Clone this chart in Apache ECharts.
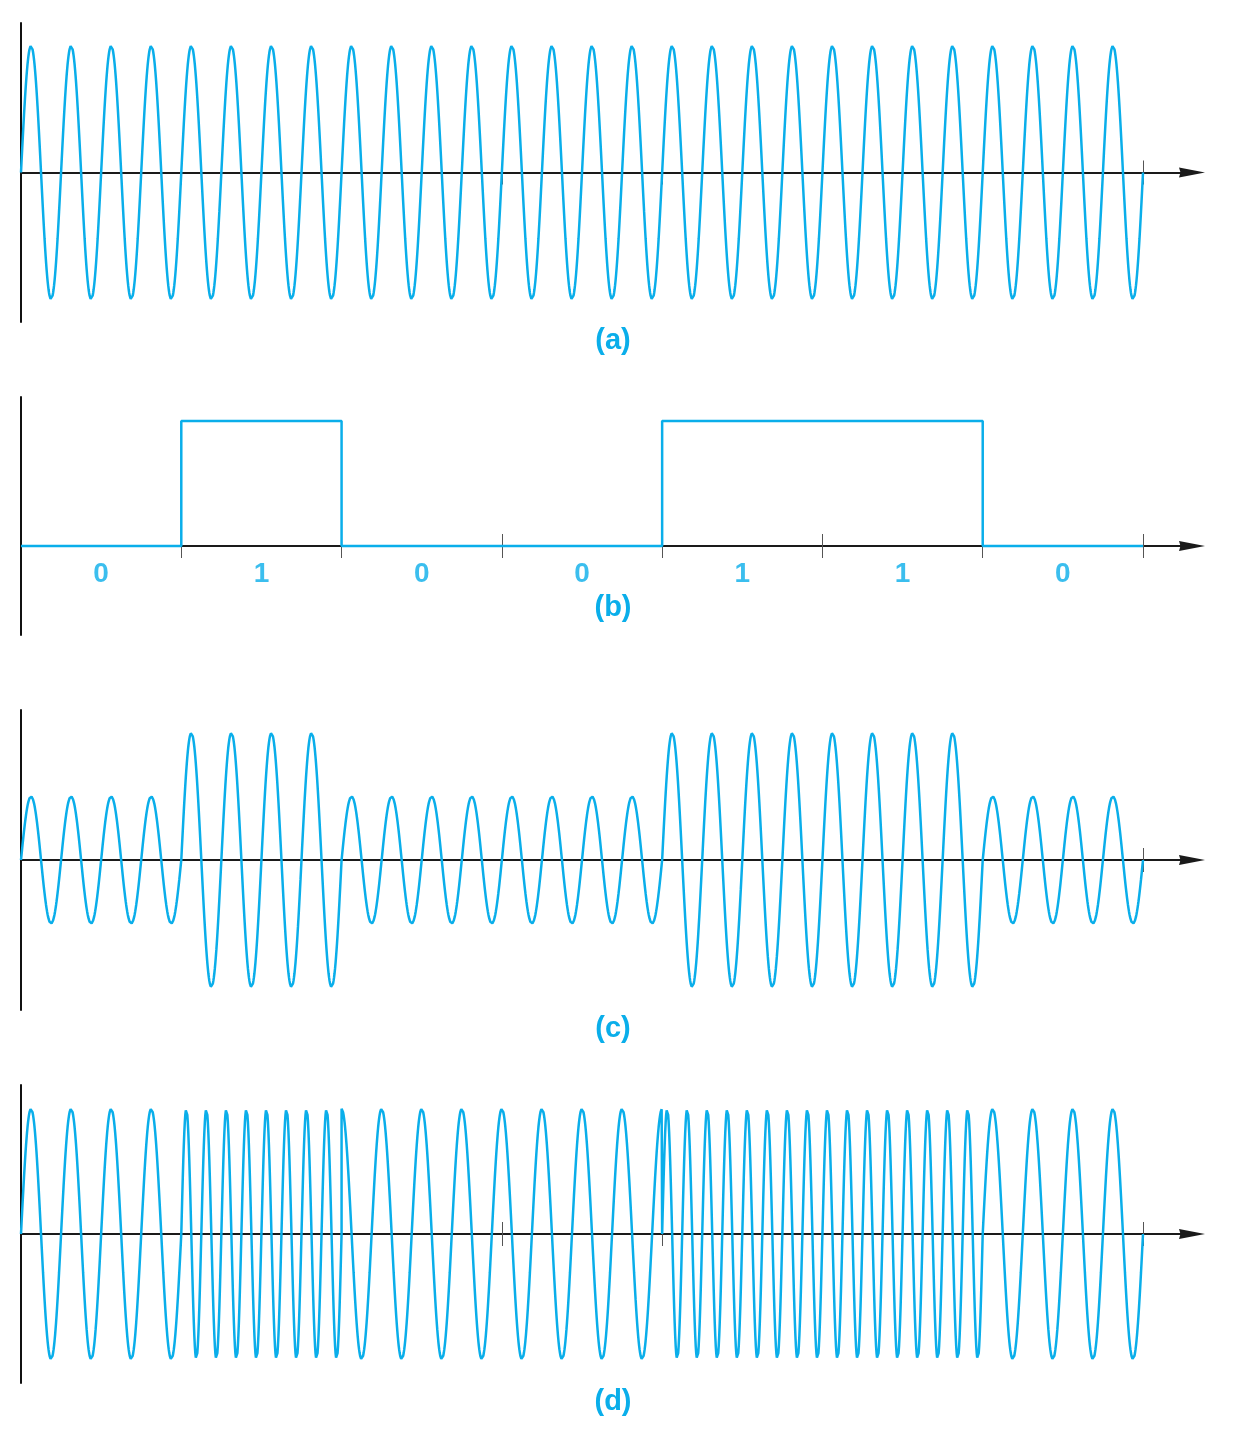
<!DOCTYPE html>
<html>
<head>
<meta charset="utf-8">
<script src="https://cdn.jsdelivr.net/npm/echarts@6/dist/echarts.min.js"></script>
<style>html,body{margin:0;padding:0;background:#fff}#c{width:1247px;height:1443px}</style>
</head>
<body>
<div id="c"></div>
<script>
// ---- data ----
const bits = [0, 1, 0, 0, 1, 1, 0];
const bitLabels = ['0', '1', '0', '0', '1', '1', '0'];
const carrierCyclesPerBit = 4;                 // (a) carrier
const askAmplitudes = [0.5, 1];                // (c) amplitude for bit 0 / bit 1
const fskCyclesPerBit = [4, 8];                // (d) cycles per bit for bit 0 / bit 1
const fskPhasePerBit = [0, 0, 0.25, 0.25, 0, 0, 0]; // (d) starting phase (cycles) read per bit
const panelLabels = ['(a)', '(b)', '(c)', '(d)'];
const tickValuesPerPanel = [
  [1, 2, 3, 4, 5, 6, 7],
  [1, 2, 3, 4, 5, 6, 7],
  [7],
  [1, 2, 3, 4, 5, 6, 7]
];
const bitCenterValues = [0.5, 1.5, 2.5, 3.5, 4.5, 5.5, 6.5];

// ---- build waveforms from the bit data ----
const SAMPLES_PER_BIT = 320;
function wave(ampOf, cyclesOf, phaseOf) {
  const pts = [];
  for (let b = 0; b < bits.length; b++) {
    const A = ampOf(bits[b]), c = cyclesOf(bits[b]), ph = phaseOf(b);
    for (let k = 0; k <= SAMPLES_PER_BIT; k++) {
      if (b > 0 && k === 0 && ph === phaseOf(b - 1)) continue;
      const t = k / SAMPLES_PER_BIT;
      pts.push([b + t, A * Math.sin(2 * Math.PI * (c * t + ph))]);
    }
  }
  return pts;
}
const carrier = wave(() => 1, () => carrierCyclesPerBit, () => 0);
const ask = wave(v => askAmplitudes[v], () => carrierCyclesPerBit, () => 0);
const fsk = wave(() => 1, v => fskCyclesPerBit[v], b => fskPhasePerBit[b]);
const digital = bits.map((v, i) => [i, v]).concat([[bits.length, bits[bits.length - 1]]]);
const bitLabelPoints = bitCenterValues.map((x, i) => ({ value: [x, 0], name: bitLabels[i] }));

// ---- layout ----
const CYAN = '#0aaeea';
const XMAX = 7.3057;
const grids = [
  { top: 23, height: 299, min: -1.18, max: 1.18 },
  { top: 397, height: 238, min: -0.712, max: 1.192 },
  { top: 710, height: 300, min: -1.18, max: 1.18 },
  { top: 1085, height: 298, min: -1.19, max: 1.19 }
];
const labelY = [341, 608, 1029, 1402];
const seriesData = [carrier, digital, ask, fsk];
const FONT = '"Liberation Sans", Arial, Helvetica, sans-serif';

const option = {
  animation: false,
  grid: [], xAxis: [], yAxis: [], series: [],
  graphic: []
};
grids.forEach((g, i) => {
  option.grid.push({ left: 21, width: 1171, top: g.top, height: g.height });
  const axisLineStyle = { color: '#1a1a1a', width: 2 };
  option.xAxis.push({
    type: 'value', gridIndex: i, min: 0, max: XMAX, position: 'bottom',
    axisLine: { show: true, onZero: true, lineStyle: axisLineStyle,
      symbol: ['none', 'path://M5,0 L10,26 L5,24.5 L0,26 Z'], symbolSize: [15, 26] },
    axisTick: { show: true, length: 12, inside: false, customValues: tickValuesPerPanel[i],
      lineStyle: { color: '#555', width: 1 } },
    axisLabel: { show: false },
    splitLine: { show: false }
  });
  option.xAxis.push({
    type: 'value', gridIndex: i, min: 0, max: XMAX, position: 'bottom',
    axisLine: { show: true, onZero: true, onZeroAxisIndex: i, lineStyle: axisLineStyle, symbol: 'none' },
    axisTick: { show: true, length: 12, inside: true, customValues: tickValuesPerPanel[i],
      lineStyle: { color: '#555', width: 1 } },
    axisLabel: { show: false },
    splitLine: { show: false }
  });
  option.yAxis.push({
    type: 'value', gridIndex: i, min: g.min, max: g.max,
    axisLine: { show: true, onZero: false, lineStyle: { color: '#111', width: 2 } },
    axisTick: { show: false }, axisLabel: { show: false }, splitLine: { show: false }
  });
  option.series.push({
    type: 'line', xAxisIndex: i * 2, yAxisIndex: i,
    data: seriesData[i], showSymbol: false, symbol: 'none',
    step: i === 1 ? 'end' : false,
    lineStyle: { color: CYAN, width: 2.5 }, z: 3
  });
  option.graphic.push({
    type: 'text', x: 613, y: labelY[i],
    style: { text: panelLabels[i], fill: CYAN, align: 'center', verticalAlign: 'middle',
      font: 'bold 29px ' + FONT }
  });
});
// bit labels for panel (b)
option.series.push({
  type: 'scatter', xAxisIndex: 2, yAxisIndex: 1,
  data: bitLabelPoints, symbolSize: 0, silent: true,
  label: { show: true, position: 'bottom', distance: 14, formatter: p => p.name,
    color: CYAN, fontSize: 28, fontWeight: 'bold', fontFamily: FONT }
});

const chart = echarts.init(document.getElementById('c'), null, { renderer: 'canvas' });
chart.setOption(option);
</script>
</body>
</html>
